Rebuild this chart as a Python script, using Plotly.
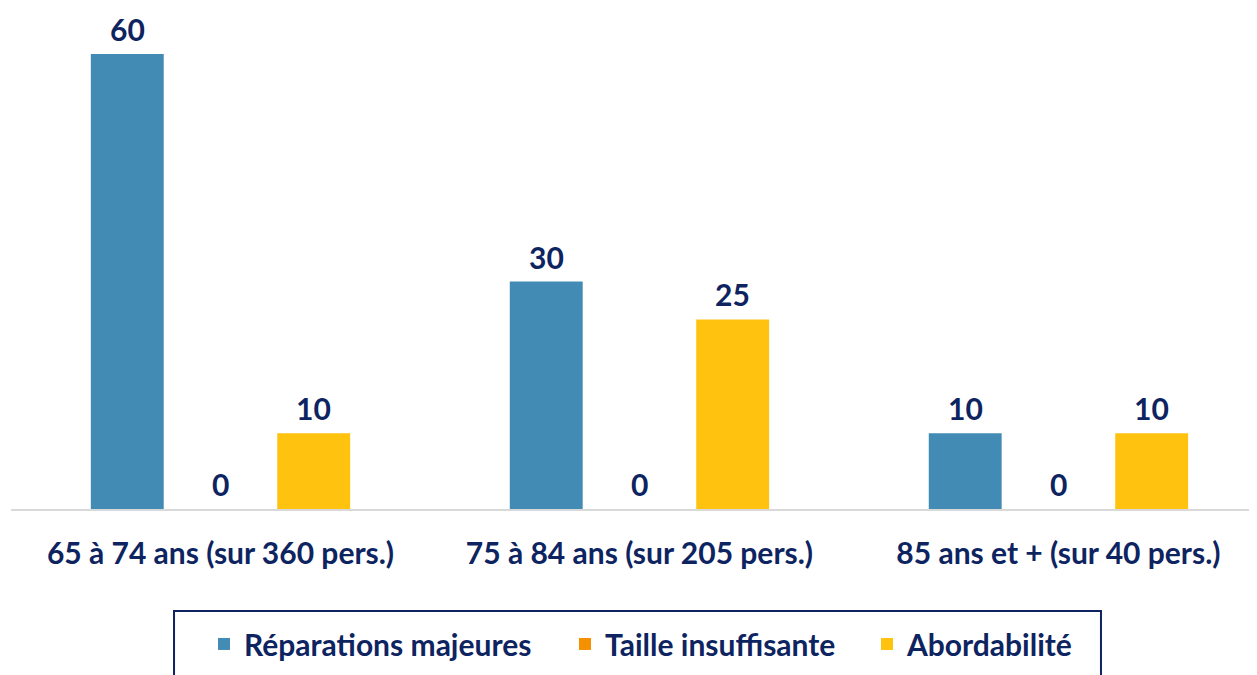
import plotly.graph_objects as go

categories = ["65 à 74 ans (sur 360 pers.)", "75 à 84 ans (sur 205 pers.)", "85 ans et + (sur 40 pers.)"]
series_names = ["Réparations majeures", "Taille insuffisante", "Abordabilité"]
reparations = [60, 30, 10]
taille = [0, 0, 0]
abordabilite = [10, 25, 10]

colors = ["#428BB4", "#F59100", "#FFC20E"]
navy = "#0D2461"
font_family = "Lato"
fsize = 30

# bar layout (in category units): width and centre offset of each series
bar_w = 0.174
centers = [-0.2225, 0.0, 0.2225]
# one legend per series so the spacing of the entries can follow the original
legend_ids = ["legend", "legend2", "legend3"]
legend_x = [0.1539, 0.4418, 0.6826]

fig = go.Figure()
annotations = []
xs = list(range(len(categories)))
for name, vals, col, c, lg in zip(series_names, [reparations, taille, abordabilite], colors, centers, legend_ids):
    fig.add_trace(go.Bar(
        x=xs, y=vals, name=name, legend=lg,
        width=bar_w, offset=c - bar_w / 2,
        marker=dict(color=col, line=dict(width=0)),
        hoverinfo="y+name",
    ))
    for i, v in zip(xs, vals):
        annotations.append(dict(
            x=i + c, y=v, text=str(v), showarrow=False,
            xref="x", yref="y", yanchor="bottom", yshift=6, borderpad=0,
            font=dict(family=font_family, size=fsize, color=navy, weight="bold"),
        ))

legend_style = dict(
    orientation="h", xanchor="left", y=-0.276, yanchor="middle",
    font=dict(family=font_family, size=fsize, color=navy, weight="bold"),
    bgcolor="rgba(0,0,0,0)",
)

fig.update_layout(
    width=1257, height=675,
    margin=dict(l=3, r=0, t=12, b=174),
    paper_bgcolor="white", plot_bgcolor="white",
    barmode="overlay",
    showlegend=True,
    legend=dict(x=legend_x[0], **legend_style),
    legend2=dict(x=legend_x[1], **legend_style),
    legend3=dict(x=legend_x[2], **legend_style),
    annotations=annotations,
    shapes=[dict(
        type="rect", xref="paper", yref="paper",
        x0=0.130, x1=0.8692, y0=-0.2086, y1=-0.42,
        line=dict(color=navy, width=2), fillcolor="rgba(0,0,0,0)",
    )],
)
fig.update_xaxes(
    range=[-0.5, 2.493], tickvals=xs, ticktext=categories,
    showline=True, linecolor="#D9D9D9", linewidth=2,
    showgrid=False, zeroline=False, ticks="", ticklabelstandoff=17,
    tickfont=dict(family=font_family, size=fsize, color=navy, weight="bold"),
)
fig.update_yaxes(range=[0, 64.5], visible=False, showgrid=False, zeroline=False)

fig.write_html("out.html")
